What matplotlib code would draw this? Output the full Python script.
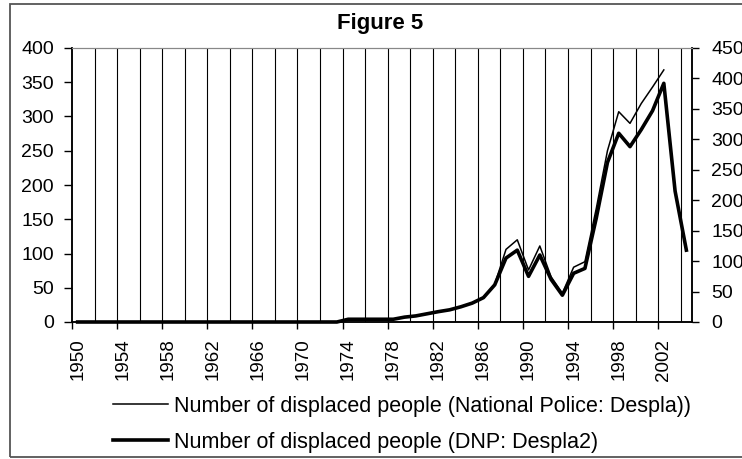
import matplotlib
matplotlib.use("Agg")
import matplotlib.pyplot as plt
from matplotlib.patches import Rectangle
import numpy as np

years = list(range(1950, 2005))
# National Police (left axis), no data for 2003-2004
despla = [0, 0, 0, 0, 0, 0, 0, 0, 0, 0, 0, 0, 0, 0, 0, 0, 0, 0, 0, 0, 0, 0, 0, 0,
          4, 4, 4, 4, 4, 7, 9, 12, 15, 18, 22, 28, 36, 55,
          106, 120, 76, 111, 66, 42, 80, 88,
          165, 250, 307, 290, 319, 343, 368, np.nan, np.nan]
# DNP (right axis)
despla2 = [0, 0, 0, 0, 0, 0, 0, 0, 0, 0, 0, 0, 0, 0, 0, 0, 0, 0, 0, 0, 0, 0, 0, 0,
           4.5, 4.5, 4.5, 4.5, 4.5, 8, 10, 13.5, 17, 20, 25, 31, 40, 61,
           105, 118, 75, 110, 70, 44, 80, 88,
           170, 262, 310, 288, 316, 347, 392, 215, 118]
label1 = "Number of displaced people (National Police: Despla))"
label2 = "Number of displaced people (DNP: Despla2)"
title = "Figure 5"

plt.rcParams['font.family'] = ['Liberation Sans', 'DejaVu Sans']

fig = plt.figure(figsize=(7.42, 4.59), dpi=100)
ax = fig.add_axes([72 / 742, 1 - 322 / 459, 620 / 742, 274 / 459])
ax2 = ax.twinx()

x = np.arange(len(years))
n = len(years)

# vertical gridlines every 2 categories
for b in np.arange(1.5, n - 1, 2):
    ax.axvline(b, color='black', lw=0.8, zorder=0)

l1, = ax.plot(x, despla, color='black', lw=1.1, clip_on=False, label=label1, zorder=3)
l2, = ax2.plot(x, despla2, color='black', lw=2.6, clip_on=False, label=label2, zorder=3)

ax.set_xlim(-0.5, n - 0.5)
ax.set_ylim(0, 400)
ax2.set_ylim(0, 450)
ax.set_yticks(range(0, 401, 50))
ax2.set_yticks(range(0, 451, 50))

ax.set_xticks(x[::4])
ax.set_xticklabels([str(y) for y in years[::4]], rotation=90, fontsize=13.5)
ax.set_xticks(np.arange(-0.5, n - 1, 4), minor=True)
ax.tick_params(axis='x', which='major', length=0, pad=12)
ax.tick_params(axis='x', which='minor', length=5, width=1, direction='out')
ax.tick_params(axis='y', labelsize=14, length=6, width=1, pad=7)
ax2.tick_params(axis='y', labelsize=14, length=5, width=1, pad=9)

for a in (ax, ax2):
    a.spines['top'].set_color('#888888')
    a.spines['left'].set_linewidth(1.1)
    a.spines['right'].set_linewidth(1.1)
    a.spines['bottom'].set_linewidth(1.1)

fig.text(380 / 742, 1 - 23 / 459, title, ha='center', va='center',
         fontsize=16, fontweight='bold')

fig.legend(handles=[l1, l2], loc='upper left',
           bbox_to_anchor=(112.7 / 742, 1 - 396 / 459), frameon=False,
           fontsize=15.5, handlelength=2.55, handletextpad=0.3,
           labelspacing=0.68, borderpad=0, borderaxespad=0)

fig.patches.append(Rectangle((10 / 742, 2 / 459), 1.0, 1 - 6 / 459,
                             transform=fig.transFigure, fill=False,
                             edgecolor='#555555', lw=1.3))

fig.savefig("out.png", dpi=100)
